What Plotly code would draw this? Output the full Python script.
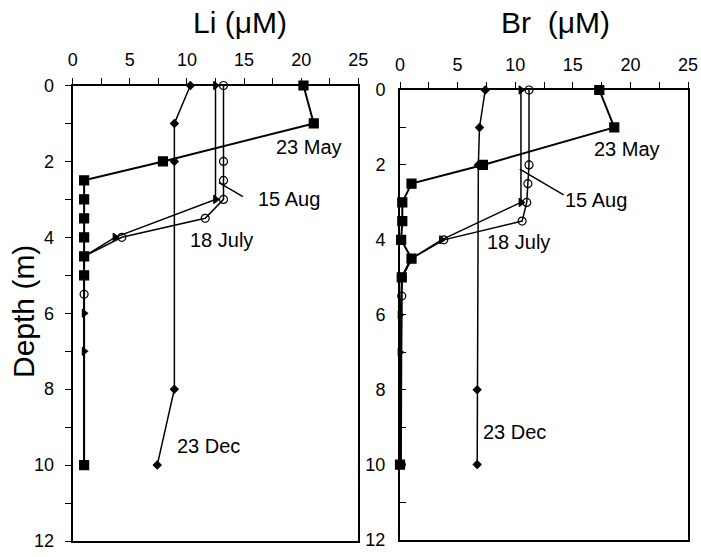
import plotly.graph_objects as go

FONT = "Liberation Sans, Arial, sans-serif"

# ---------------- data ----------------
# Li (uM) panel
li_may_depth = [0, 1, 2, 2.5, 3, 3.5, 4, 4.5, 5, 10]
li_may = [20.2, 21.1, 7.9, 1.0, 1.0, 1.0, 1.0, 1.0, 1.0, 1.0]
li_jul_depth = [0, 2, 2.5, 3, 3.5, 4, 4.5, 5.5, 10]
li_jul = [13.2, 13.2, 13.2, 13.2, 11.6, 4.3, 1.0, 1.0, 1.0]
li_aug_depth = [0, 3, 4, 4.5, 6, 7, 10]
li_aug = [12.5, 12.5, 3.7, 1.0, 1.0, 1.0, 1.0]
li_dec_depth = [0, 1, 2, 8, 10]
li_dec = [10.3, 8.9, 8.9, 8.9, 7.4]

# Br (uM) panel
br_may_depth = [0, 1, 2, 2.5, 3, 3.5, 4, 4.5, 5, 10]
br_may = [17.3, 18.6, 7.2, 1.0, 0.2, 0.2, 0.1, 1.0, 0.15, 0.0]
br_jul_depth = [0, 2, 2.5, 3, 3.5, 4, 4.5, 5, 5.5, 10]
br_jul = [11.2, 11.2, 11.1, 11.0, 10.6, 3.8, 1.0, 0.15, 0.15, 0.1]
br_aug_depth = [0, 3, 4, 4.5, 5, 6, 7, 10]
br_aug = [10.5, 10.5, 3.6, 1.0, 0.2, 0.0, 0.0, 0.0]
br_dec_depth = [0, 1, 2, 8, 10]
br_dec = [7.4, 6.9, 6.8, 6.7, 6.7]

x_ticks = [0, 2.5, 5, 7.5, 10, 12.5, 15, 17.5, 20, 22.5, 25]
x_labels = ["0", "", "5", "", "10", "", "15", "", "20", "", "25"]
y_ticks = list(range(0, 13))
y_labels = [str(v) if v % 2 == 0 else "" for v in y_ticks]

titles = ["Li (\u03bcM)", "Br  (\u03bcM)"]

fig = go.Figure()

def add_series(xa, ya, xs, ds, symbol, size, lw, fill="black"):
    fig.add_trace(go.Scatter(
        x=xs, y=ds, xaxis=xa, yaxis=ya, mode="lines+markers",
        line=dict(color="black", width=lw),
        marker=dict(symbol=symbol, size=size, color=fill,
                    line=dict(color="black", width=1.2)),
        cliponaxis=False, showlegend=False, hoverinfo="skip"))

for xa, ya, may, mayd, jul, juld, aug, augd, dec, decd in [
    ("x", "y", li_may, li_may_depth, li_jul, li_jul_depth, li_aug, li_aug_depth, li_dec, li_dec_depth),
    ("x2", "y2", br_may, br_may_depth, br_jul, br_jul_depth, br_aug, br_aug_depth, br_dec, br_dec_depth),
]:
    add_series(xa, ya, dec, decd, "diamond", 6, 1.5)
    add_series(xa, ya, aug, augd, "triangle-right", 7, 1.5)
    add_series(xa, ya, jul, juld, "circle-open", 8, 1.5)
    add_series(xa, ya, may, mayd, "square", 9, 2)

def xaxis_cfg(domain, anchor):
    return dict(domain=domain, anchor=anchor, side="top", range=[0, 25],
                tickmode="array", tickvals=x_ticks, ticktext=x_labels,
                ticks="outside", ticklen=6, tickwidth=1.2, tickcolor="black",
                ticklabelstandoff=4, automargin=False,
                showline=True, mirror=True, linecolor="black", linewidth=2,
                showgrid=False, zeroline=False,
                tickfont=dict(family=FONT, size=18, color="black"))

def yaxis_cfg(domain, anchor, ticks, standoff):
    return dict(domain=domain, anchor=anchor, range=[12, 0],
                tickmode="array", tickvals=y_ticks, ticktext=y_labels,
                ticks=ticks, ticklen=6, tickwidth=1.2, tickcolor="black",
                ticklabelstandoff=standoff, automargin=False,
                showline=True, mirror=True, linecolor="black", linewidth=2,
                showgrid=False, zeroline=False,
                tickfont=dict(family=FONT, size=18, color="black"))

W, H = 701, 557
fig.update_layout(
    template="none",
    width=W, height=H, margin=dict(l=0, r=0, t=0, b=0, pad=0),
    paper_bgcolor="white", plot_bgcolor="white",
    font=dict(family=FONT, color="black"),
    xaxis=xaxis_cfg([72.7 / W, 358.3 / W], "y"),
    yaxis=yaxis_cfg([1 - 541 / H, 1 - 85.5 / H], "x", "outside", 7),
    xaxis2=xaxis_cfg([400 / W, 688 / W], "y2"),
    yaxis2=yaxis_cfg([1 - 539.5 / H, 1 - 90 / H], "x2", "inside", 9),
)

ann = []
center = dict(xanchor="center", yanchor="middle", showarrow=False)
# panel titles
ann.append(dict(text=titles[0], x=240 / W, y=1 - 23 / H, xref="paper", yref="paper",
                font=dict(size=30, family=FONT), **center))
ann.append(dict(text=titles[1], x=555 / W, y=1 - 23 / H, xref="paper", yref="paper",
                font=dict(size=30, family=FONT), **center))
# y title
ann.append(dict(text="Depth (m)", x=23 / W, y=1 - 312 / H, xref="paper", yref="paper",
                textangle=-90, font=dict(size=30, family=FONT), **center))

lab = dict(font=dict(size=20, family=FONT), **center)
ann += [
    dict(text="23 May", x=20.7, y=1.62, xref="x", yref="y", **lab),
    dict(text="15 Aug", x=18.9, y=2.99, xref="x", yref="y", **lab),
    dict(text="18 July", x=13.0, y=4.07, xref="x", yref="y", **lab),
    dict(text="23 Dec", x=11.85, y=9.51, xref="x", yref="y", **lab),
    dict(text="23 May", x=19.7, y=1.57, xref="x2", yref="y2", **lab),
    dict(text="15 Aug", x=17.0, y=2.93, xref="x2", yref="y2", **lab),
    dict(text="18 July", x=10.3, y=4.05, xref="x2", yref="y2", **lab),
    dict(text="23 Dec", x=9.95, y=9.12, xref="x2", yref="y2", **lab),
]
fig.update_layout(annotations=ann)

# leader lines for "15 Aug"
fig.add_shape(type="line", xref="x", yref="y", x0=12.8, y0=2.56, x1=14.9, y1=2.93,
              line=dict(color="black", width=1.5))
fig.add_shape(type="line", xref="x2", yref="y2", x0=10.4, y0=2.11, x1=14.2, y1=2.8,
              line=dict(color="black", width=1.5))

fig.write_html("out.html", config={"displayModeBar": False},
               post_script="document.body.style.margin='0';document.body.style.padding='0';")
